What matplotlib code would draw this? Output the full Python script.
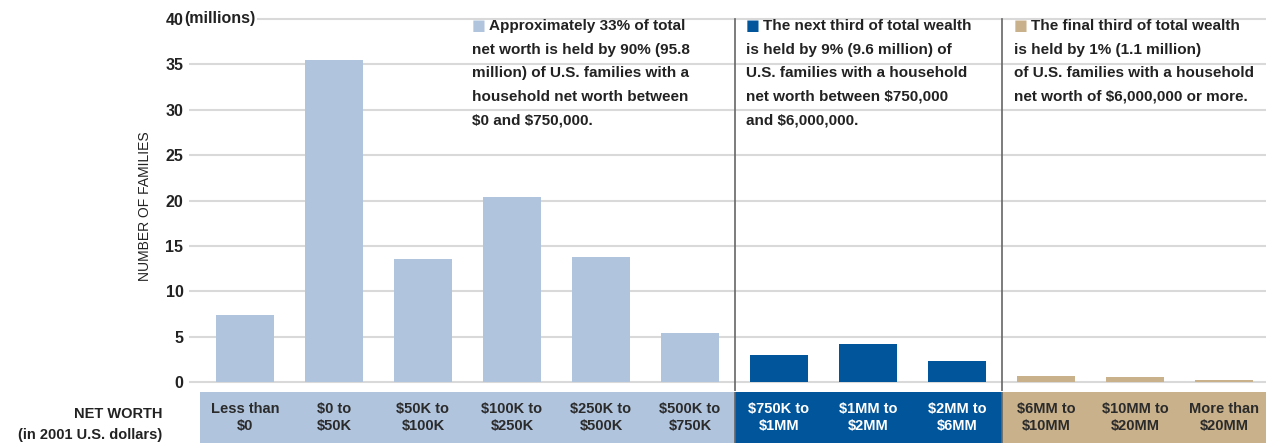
import matplotlib
matplotlib.use('Agg')
import matplotlib.pyplot as plt

plt.rcParams['font.family'] = ['Liberation Sans', 'DejaVu Sans']
plt.rcParams['text.parse_math'] = False

# data (millions of families by net worth bracket)
categories = ["Less than\n$0", "$0 to\n$50K", "$50K to\n$100K", "$100K to\n$250K",
              "$250K to\n$500K", "$500K to\n$750K", "$750K to\n$1MM", "$1MM to\n$2MM",
              "$2MM to\n$6MM", "$6MM to\n$10MM", "$10MM to\n$20MM", "More than\n$20MM"]
families = [7.4, 35.5, 13.6, 20.4, 13.8, 5.4, 3.0, 4.2, 2.3, 0.7, 0.5, 0.2]
group = [0, 0, 0, 0, 0, 0, 1, 1, 1, 2, 2, 2]
yticks = [0, 5, 10, 15, 20, 25, 30, 35, 40]

notes = [
    ["Approximately 33% of total", "net worth is held by 90% (95.8",
     "million) of U.S. families with a", "household net worth between",
     "$0 and $750,000."],
    ["The next third of total wealth", "is held by 9% (9.6 million) of",
     "U.S. families with a household", "net worth between $750,000",
     "and $6,000,000."],
    ["The final third of total wealth", "is held by 1% (1.1 million)",
     "of U.S. families with a household", "net worth of $6,000,000 or more."],
]

group_colors = ['#b0c4de', '#00559b', '#c8b18b']
label_colors = ['#2b2b2b', 'white', '#2b2b2b']
text_col = '#222222'

W, H = 1266, 443
fig = plt.figure(figsize=(W / 100, H / 100), dpi=100)

# main axes: x in category units (89 px each), y 9.075 px per unit
ax = fig.add_axes([189 / W, (H - 391.1) / H, (W - 189) / W, (391.1 - 14.46) / H])
ax.set_xlim(-0.5 - 11.5 / 89, -0.5 + (W - 200.5) / 89)
ax.set_ylim(-1, 40.5)

x = list(range(len(categories)))
colors = [group_colors[g] for g in group]
ax.bar(x, families, width=0.652, color=colors, zorder=2)

for yt in yticks:
    if yt == 40:
        ax.axhline(yt, xmin=69 / 1077, color='#d9d9d9', lw=1.5, zorder=1)
    else:
        ax.axhline(yt, color='#d9d9d9', lw=1.5, zorder=1)

ax.set_yticks(yticks)
ax.set_yticklabels([str(t) for t in yticks], fontsize=11.5, fontweight='bold', color=text_col)
ax.tick_params(axis='y', length=0, pad=4)
ax.set_xticks([])
for s in ax.spines.values():
    s.set_visible(False)
ax.annotate('(millions)', xy=(0, 40), xycoords=('axes fraction', 'data'),
            xytext=(-5, 0), textcoords='offset pixels', ha='left', va='center',
            fontsize=11.5, fontweight='bold', color=text_col)

ax.set_ylabel('NUMBER OF FAMILIES', fontsize=10, color=text_col)
ax.yaxis.set_label_coords(-0.034, 0.491)

# group separators
for sep in [5.5, 8.5]:
    ax.axvline(sep, ymin=0, ymax=41 / 41.5, color='#666666', lw=1.2, zorder=3)

# notes above bars
note_x = [2.55, 5.63, 8.64]
for g, lines in enumerate(notes):
    ax.annotate('\u25a0', xy=(note_x[g], 38.79), ha='left', va='baseline',
                fontsize=10.5, color=group_colors[g], family='DejaVu Sans')
    for i, line in enumerate(lines):
        dx = 17 if i == 0 else 0
        ax.annotate(line, xy=(note_x[g], 38.79), xytext=(dx, -23.6 * i),
                    textcoords='offset pixels', ha='left', va='baseline',
                    fontsize=11, fontweight='bold', color=text_col)

# category label strip
lab = fig.add_axes([200.5 / W, 0, (W - 200.5) / W, (H - 392) / H])
lab.set_xlim(-0.5, -0.5 + (W - 200.5) / 89)
lab.set_ylim(0, 1)
lab.bar(x, [1] * len(x), width=1.0, bottom=0, color=colors)
for i, cat in enumerate(categories):
    lab.text(i, 0.5, cat, ha='center', va='center', fontsize=10.5, fontweight='bold',
             color=label_colors[group[i]], linespacing=1.35)
for sep in [5.5, 8.5]:
    lab.axvline(sep, color='#666666', lw=1.2, zorder=3)
lab.axis('off')

fig.text(162 / W, 1 - 414.5 / H, 'NET WORTH', ha='right', va='center',
         fontsize=10.5, fontweight='bold', color=text_col)
fig.text(162 / W, 1 - 435.5 / H, '(in 2001 U.S. dollars)', ha='right', va='center',
         fontsize=10.5, fontweight='bold', color=text_col)

fig.savefig('out.png', dpi=100)
